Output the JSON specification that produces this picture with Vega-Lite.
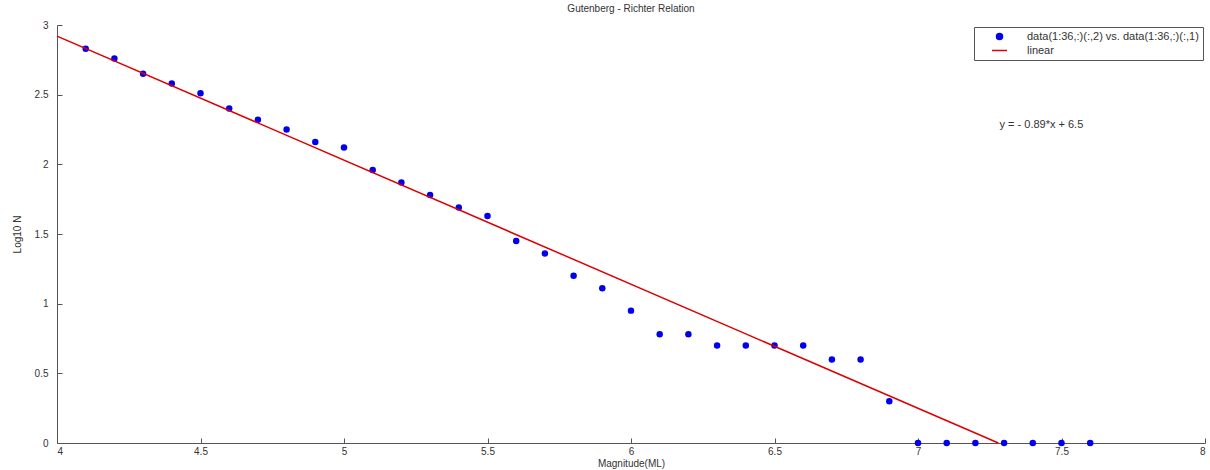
{
  "$schema": "https://vega.github.io/schema/vega-lite/v6.json",
  "width": 1148,
  "height": 418,
  "autosize": {"type": "none"},
  "padding": {"left": 57, "top": 25, "right": 5, "bottom": 27},
  "background": "white",
  "config": {
    "font": "Liberation Sans",
    "view": {"stroke": null},
    "axis": {"grid": false, "domainColor": "#555", "tickColor": "#555", "labelColor": "#333", "titleColor": "#333", "labelFontSize": 10, "titleFontSize": 10, "titleFontWeight": "normal", "tickSize": -5, "labelPadding": 8, "format": "~g"}
  },
  "title": {"text": "Gutenberg - Richter Relation", "fontSize": 10, "fontWeight": "normal", "color": "#333", "offset": 6},
  "datasets": {
    "pts": [
      {"x": 4.1, "y": 2.83}, {"x": 4.2, "y": 2.76}, {"x": 4.3, "y": 2.65}, {"x": 4.4, "y": 2.58},
      {"x": 4.5, "y": 2.51}, {"x": 4.6, "y": 2.40}, {"x": 4.7, "y": 2.32}, {"x": 4.8, "y": 2.25},
      {"x": 4.9, "y": 2.16}, {"x": 5.0, "y": 2.12}, {"x": 5.1, "y": 1.96}, {"x": 5.2, "y": 1.87},
      {"x": 5.3, "y": 1.78}, {"x": 5.4, "y": 1.69}, {"x": 5.5, "y": 1.63}, {"x": 5.6, "y": 1.45},
      {"x": 5.7, "y": 1.36}, {"x": 5.8, "y": 1.20}, {"x": 5.9, "y": 1.11}, {"x": 6.0, "y": 0.95},
      {"x": 6.1, "y": 0.78}, {"x": 6.2, "y": 0.78}, {"x": 6.3, "y": 0.70}, {"x": 6.4, "y": 0.70},
      {"x": 6.5, "y": 0.70}, {"x": 6.6, "y": 0.70}, {"x": 6.7, "y": 0.60}, {"x": 6.8, "y": 0.60},
      {"x": 6.9, "y": 0.30}, {"x": 7.0, "y": 0}, {"x": 7.1, "y": 0}, {"x": 7.2, "y": 0},
      {"x": 7.3, "y": 0}, {"x": 7.4, "y": 0}, {"x": 7.5, "y": 0}, {"x": 7.6, "y": 0}
    ],
    "fit": [{"x": 4.0, "y": 2.92}, {"x": 7.28, "y": 0}],
    "ann": [{"x": 7.43, "y": 2.28, "t": "y = - 0.89*x + 6.5"}]
  },
  "layer": [
    {
      "data": {"name": "pts"},
      "transform": [{"calculate": "'data(1:36,:)(:,2) vs. data(1:36,:)(:,1)'", "as": "series"}],
      "mark": {"type": "point", "filled": true, "size": 42, "opacity": 1},
      "encoding": {
        "x": {"field": "x", "type": "quantitative", "scale": {"domain": [4, 8], "nice": false}, "axis": {"values": [4, 4.5, 5, 5.5, 6, 6.5, 7, 7.5, 8], "title": "Magnitude(ML)", "titlePadding": 2}},
        "y": {"field": "y", "type": "quantitative", "scale": {"domain": [0, 3], "nice": false}, "axis": {"values": [0, 0.5, 1, 1.5, 2, 2.5, 3], "title": "Log10 N", "titlePadding": 12, "labelPadding": 14}},
        "color": {"field": "series", "type": "nominal",
          "scale": {"domain": ["data(1:36,:)(:,2) vs. data(1:36,:)(:,1)", "linear"], "range": ["#0000ee", "#dd0000"]},
          "legend": {"title": null, "orient": "top-right", "offset": 2, "strokeColor": "#555", "fillColor": "white", "padding": 4, "labelFontSize": 11, "labelColor": "#333", "labelLimit": 400, "symbolSize": 36, "symbolOffset": 16, "rowPadding": 1, "labelOffset": 22,
            "encode": {"symbols": {"update": {"stroke": {"scale": "color", "field": "value"}, "strokeWidth": {"value": 1.5}}}}}},
        "shape": {"field": "series", "type": "nominal", "scale": {"domain": ["data(1:36,:)(:,2) vs. data(1:36,:)(:,1)", "linear"], "range": ["circle", "M-2.5,0H2.5"]}, "legend": null}
      }
    },
    {
      "data": {"name": "fit"},
      "transform": [{"calculate": "'linear'", "as": "series"}],
      "mark": {"type": "line", "strokeWidth": 1.5},
      "encoding": {
        "x": {"field": "x", "type": "quantitative"},
        "y": {"field": "y", "type": "quantitative"},
        "color": {"field": "series", "type": "nominal"}
      }
    },
    {
      "data": {"name": "ann"},
      "mark": {"type": "text", "fontSize": 11, "color": "#333"},
      "encoding": {
        "x": {"field": "x", "type": "quantitative"},
        "y": {"field": "y", "type": "quantitative"},
        "text": {"field": "t"}
      }
    }
  ]
}
